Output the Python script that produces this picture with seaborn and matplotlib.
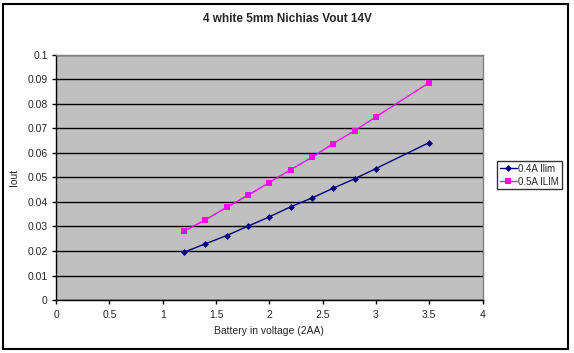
import numpy as np
import pandas as pd
import matplotlib
matplotlib.use("Agg")
import matplotlib.pyplot as plt
import seaborn as sns
from matplotlib.patches import Rectangle

# Battery voltage (V) and output current (A)
voltage = [1.2, 1.4, 1.6, 1.8, 2.0, 2.2, 2.4, 2.6, 2.8, 3.0, 3.5]
iout_04 = [0.0195, 0.0229, 0.0263, 0.0301, 0.0339, 0.0380, 0.0416, 0.0456, 0.0494, 0.0536, 0.0642]
iout_05 = [0.0280, 0.0327, 0.0378, 0.0427, 0.0479, 0.0531, 0.0582, 0.0638, 0.0690, 0.0747, 0.0886]
series_names = ["0.4A Ilim", "0.5A ILIM"]
x_ticks = [0, 0.5, 1, 1.5, 2, 2.5, 3, 3.5, 4]
y_ticks = [0, 0.01, 0.02, 0.03, 0.04, 0.05, 0.06, 0.07, 0.08, 0.09, 0.1]

sns.set_style("white")
plt.rcParams['font.family'] = ['Liberation Sans', 'DejaVu Sans']

df = pd.DataFrame({"voltage": voltage, series_names[0]: iout_04, series_names[1]: iout_05})

fig = plt.figure(figsize=(5.74, 3.53), dpi=100)
ax = fig.add_axes([0.0976, 0.150, 0.7430, 0.695])
ax.set_facecolor("#c0c0c0")

sns.lineplot(data=df, x="voltage", y=series_names[0], ax=ax, color="#000080",
             marker="D", markersize=3.5, markeredgewidth=0, linewidth=1,
             label=series_names[0])
sns.lineplot(data=df, x="voltage", y=series_names[1], ax=ax, color="#ff00ff",
             marker="s", markersize=4, markeredgewidth=0, linewidth=1,
             label=series_names[1])

ax.set_xlim(0, 4)
ax.set_ylim(0, 0.1)
ax.set_xticks(x_ticks)
ax.set_xticklabels([f"{t:g}" for t in x_ticks])
ax.set_yticks(y_ticks)
ax.set_yticklabels([f"{t:g}" for t in y_ticks])
ax.yaxis.grid(True, color="black", linewidth=1)
ax.set_axisbelow(True)
ax.tick_params(axis="both", which="major", bottom=True, left=True, direction="out",
               length=3, width=1, color="black", labelsize=7.5)
ax.tick_params(axis="x", pad=4.5)
ax.tick_params(axis="y", pad=3)

for side in ["top", "right"]:
    ax.spines[side].set_color("#808080")
    ax.spines[side].set_linewidth(1)
for side in ["left", "bottom"]:
    ax.spines[side].set_color("black")
    ax.spines[side].set_linewidth(1)

ax.set_xlabel("Battery in voltage (2AA)", fontsize=7.5, labelpad=4)
ax.set_ylabel("Iout", fontsize=7.5, labelpad=6)
fig.text(0.5, 0.945, "4 white 5mm Nichias Vout 14V", ha="center", va="center",
         fontsize=8.5, fontweight="bold")

leg = ax.legend(loc="center left", bbox_to_anchor=(0.866, 0.504),
                bbox_transform=fig.transFigure, frameon=True, fancybox=False,
                fontsize=7, handlelength=1.7, handletextpad=0.2,
                borderpad=0.3, labelspacing=0.3, borderaxespad=0)
leg.get_frame().set_edgecolor("black")
leg.get_frame().set_linewidth(1)

fig.patches.append(Rectangle((0.006, 0.011), 0.984, 0.978, transform=fig.transFigure,
                             fill=False, edgecolor="black", linewidth=1.5))

fig.savefig("out.png", dpi=100)
